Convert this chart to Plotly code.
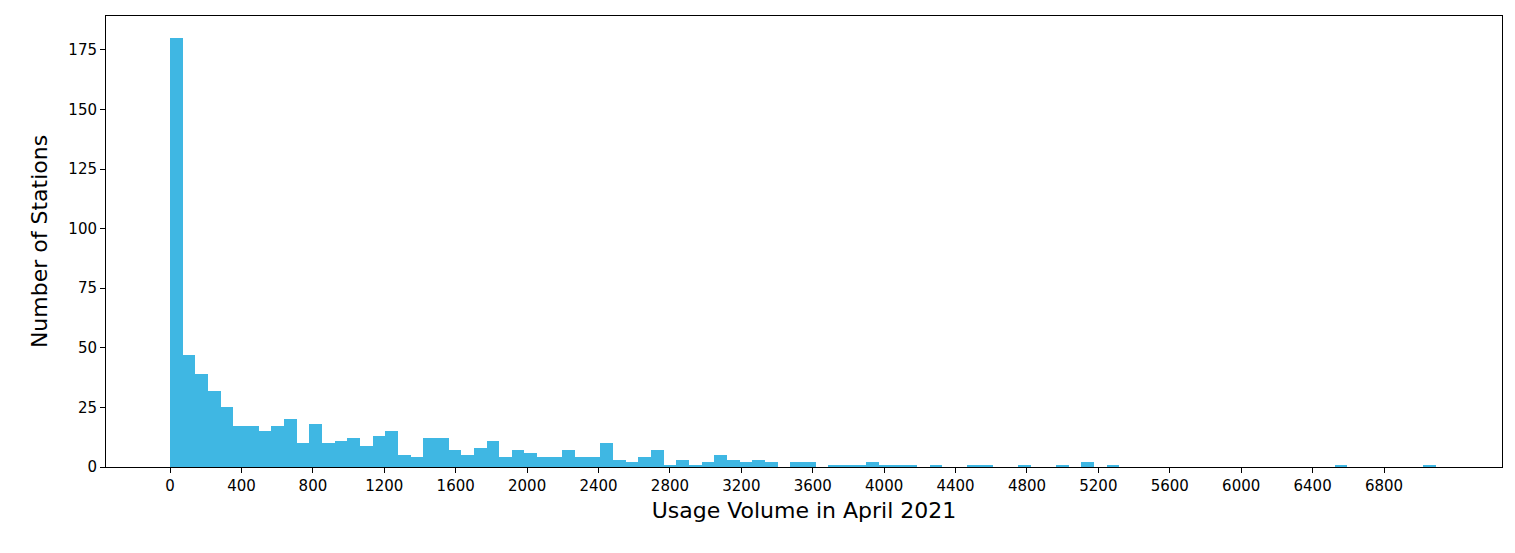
import plotly.graph_objects as go

bin_width = 70.9
counts = [180, 47, 39, 32, 25, 17, 17, 15, 17, 20,
          10, 18, 10, 11, 12, 9, 13, 15, 5, 4,
          12, 12, 7, 5, 8, 11, 4, 7, 6, 4,
          4, 7, 4, 4, 10, 3, 2, 4, 7, 1,
          3, 1, 2, 5, 3, 2, 3, 2, 0, 2,
          2, 0, 1, 1, 1, 2, 1, 1, 1, 0,
          1, 0, 0, 1, 1, 0, 0, 1, 0, 0,
          1, 0, 2, 0, 1, 0, 0, 0, 0, 0,
          0, 0, 0, 0, 0, 0, 0, 0, 0, 0,
          0, 0, 1, 0, 0, 0, 0, 0, 0, 1]
x_ticks = list(range(0, 7200, 400))
y_ticks = [0, 25, 50, 75, 100, 125, 150, 175]

centers = [(i + 0.5) * bin_width for i in range(len(counts))]

fig = go.Figure(go.Bar(x=centers, y=counts, width=bin_width,
                       marker=dict(color="#3fb7e3", line=dict(width=0))))
axis_common = dict(showline=True, linecolor="black", linewidth=1, mirror=True,
                   ticks="outside", ticklen=5, tickcolor="black", showgrid=False,
                   zeroline=False, tickfont=dict(size=15, color="black"))
fig.update_layout(
    width=1515, height=553, bargap=0,
    plot_bgcolor="white", paper_bgcolor="white",
    font=dict(family="DejaVu Sans", color="black"),
    margin=dict(l=98, r=21, t=8, b=94),
    showlegend=False,
    xaxis=dict(range=[-359, 7461], tickvals=x_ticks,
               title=dict(text="Usage Volume in April 2021", font=dict(size=22), standoff=8),
               **axis_common),
    yaxis=dict(range=[0, 189.2], tickvals=y_ticks,
               title=dict(text="Number of Stations", font=dict(size=22), standoff=14),
               **axis_common),
)
fig.write_html("out.html")
